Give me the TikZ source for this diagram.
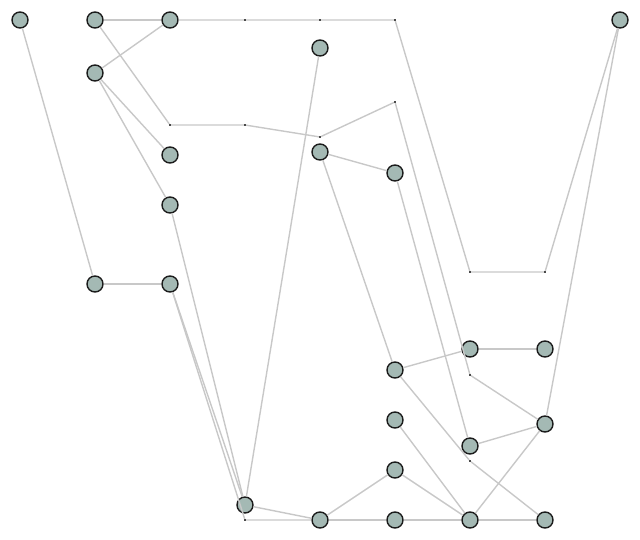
\documentclass[tikz,border=0pt]{standalone}
\usepackage{tikz}
\usetikzlibrary{positioning}
\definecolor{vfill}{HTML}{A4B9B4}
\definecolor{vline}{HTML}{1C1C1C}
\definecolor{eline}{HTML}{C8C8C8}
\begin{document}
\begin{tikzpicture}[
x=1pt,y=-1pt,
vert/.style={
  draw=vline,
  fill=vfill,
  circle,
  line width=1.4pt,
  inner sep=0pt,
  minimum size=16pt
},
dumm/.style={
  fill=vline!80,
  rectangle,
  inner sep=0pt,
  minimum size=1.8pt
},
edg/.style={
  draw=eline,
  line width=1.4pt
}
]
\useasboundingbox (0,0) rectangle (640,540);
\node[vert] (a) at (20,20) {};
\node[vert] (b) at (95,20) {};
\node[vert] (c) at (170,20) {};
\node[vert] (d) at (95,73) {};
\node[vert] (e) at (320,48) {};
\node[vert] (f) at (620,20) {};
\node[vert] (g) at (170,155) {};
\node[vert] (h) at (320,152) {};
\node[vert] (i) at (395,173) {};
\node[vert] (j) at (170,205) {};
\node[vert] (k) at (95,284) {};
\node[vert] (l) at (170,284) {};
\node[vert] (m) at (470,349) {};
\node[vert] (n) at (545,349) {};
\node[vert] (o) at (395,370) {};
\node[vert] (p) at (395,420) {};
\node[vert] (q) at (545,424) {};
\node[vert] (r) at (470,446) {};
\node[vert] (s) at (395,470) {};
\node[vert] (t) at (245,505) {};
\node[vert] (u) at (320,520) {};
\node[vert] (v) at (395,520) {};
\node[vert] (w) at (470,520) {};
\node[vert] (x) at (545,520) {};

\node[dumm] (c1) at (245,20) {};
\node[dumm] (c2) at (320,20) {};
\node[dumm] (c3) at (395,20) {};
\node[dumm] (c4) at (470,272) {};
\node[dumm] (c5) at (545,272) {};
\node[dumm] (b1) at (170,125) {};
\node[dumm] (b2) at (245,125) {};
\node[dumm] (b3) at (320,137) {};
\node[dumm] (b4) at (395,102) {};
\node[dumm] (b5) at (470,375) {};
\node[dumm] (o1) at (470,461) {};
\node[dumm] (l1) at (245,520) {};

\draw[edg] (a) -- (k);
\draw[edg] (b) -- (c);
\draw[edg] (c) -- (d);
\draw[edg] (c) -- (c1) -- (c2) -- (c3) -- (c4) -- (c5) -- (f);
\draw[edg] (b) -- (b1) -- (b2) -- (b3) -- (b4) -- (b5) -- (q);
\draw[edg] (d) -- (g);
\draw[edg] (d) -- (j);
\draw[edg] (e) -- (t);
\draw[edg] (h) -- (i);
\draw[edg] (h) -- (o);
\draw[edg] (i) -- (r);
\draw[edg] (j) -- (t);
\draw[edg] (k) -- (l);
\draw[edg] (l) -- (t);
\draw[edg] (l) -- (l1) -- (u);
\draw[edg] (t) -- (u);
\draw[edg] (m) -- (n);
\draw[edg] (o) -- (m);
\draw[edg] (o) -- (o1) -- (x);
\draw[edg] (p) -- (w);
\draw[edg] (q) -- (r);
\draw[edg] (q) -- (w);
\draw[edg] (f) -- (q);
\draw[edg] (s) -- (u);
\draw[edg] (s) -- (w);
\draw[edg] (u) -- (v) -- (w) -- (x);
\end{tikzpicture}
\end{document}
